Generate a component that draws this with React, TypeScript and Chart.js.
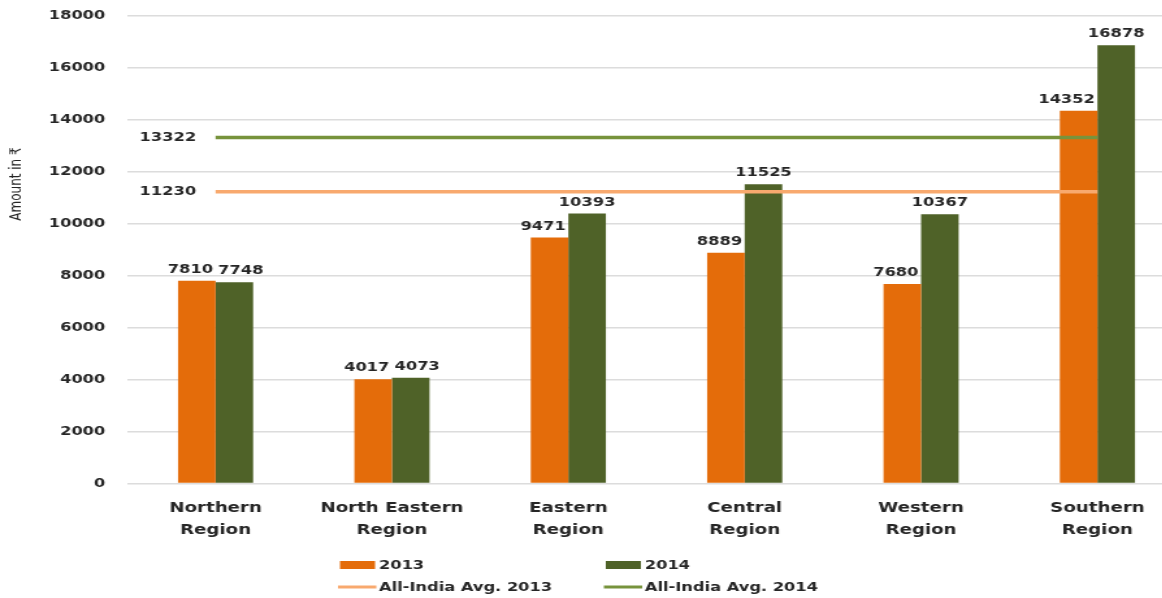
import React, { useEffect, useRef } from "react";
import { Chart, registerables } from "chart.js";

Chart.register(...registerables);

const categories = [
  "Northern Region",
  "North Eastern Region",
  "Eastern Region",
  "Central Region",
  "Western Region",
  "Southern Region",
];
const values2013 = [7810, 4017, 9471, 8889, 7680, 14352];
const values2014 = [7748, 4073, 10393, 11525, 10367, 16878];
const avg2013 = 11230;
const avg2014 = 13322;
const yTickMin = 0;
const yTickMax = 18000;
const yTickStep = 2000;
const seriesLabels = ["2013", "2014", "All-India Avg. 2013", "All-India Avg. 2014"];
const yTitle = "Amount in ₹";

const STRETCH = 1.3;
const W = 912;
const H = 598;
const FONT = "'DejaVu Sans', Verdana, sans-serif";
const TEXT = "#262626";
const C2013 = "#E46C0A";
const C2014 = "#4F6228";
const CAVG13 = "#F8A96E";
const CAVG14 = "#77933C";

const annotPlugin = {
  id: "annot",
  afterDatasetsDraw(chart: any) {
    const ctx = chart.ctx;
    ctx.save();
    ctx.fillStyle = TEXT;
    ctx.font = `bold 12.5px ${FONT}`;
    ctx.textAlign = "center";
    ctx.textBaseline = "alphabetic";
    const m0 = chart.getDatasetMeta(0);
    const m1 = chart.getDatasetMeta(1);
    const d0 = chart.data.datasets[0].data;
    const d1 = chart.data.datasets[1].data;
    const gap = 8;
    const textH = 10;
    for (let i = 0; i < m0.data.length; i++) {
      const a = m0.data[i];
      const b = m1.data[i];
      const ta = String(d0[i]);
      const tb = String(d1[i]);
      const wa = ctx.measureText(ta).width;
      const wb = ctx.measureText(tb).width;
      let xa = a.x;
      let xb = b.x;
      const ya = a.y - gap;
      const yb = b.y - gap;
      const bLeft = b.x - b.width / 2;
      if (ya > b.y) {
        const ov = xa + wa / 2 - bLeft;
        if (ov > 0) xa -= ov + 2;
      }
      if (Math.abs(ya - yb) < textH + 2) {
        const ov = xa + wa / 2 - (xb - wb / 2) + 4;
        if (ov > 0) {
          xa -= ov / 2;
          xb += ov / 2;
        }
      }
      ctx.fillText(ta, xa, ya);
      ctx.fillText(tb, xb, yb);
    }
    [2, 3].forEach((di) => {
      const meta = chart.getDatasetMeta(di);
      const ds = chart.data.datasets[di];
      const first = meta.data[0];
      ctx.textAlign = "right";
      ctx.textBaseline = "middle";
      ctx.fillText(String(ds.data[0]), first.x - 15, first.y);
    });
    ctx.restore();
  },
  afterDraw(chart: any) {
    const ctx = chart.ctx;
    ctx.save();
    ctx.translate(13, 184);
    ctx.rotate(-Math.PI / 2);
    ctx.fillStyle = TEXT;
    ctx.font = `12px ${FONT}`;
    ctx.textAlign = "center";
    ctx.textBaseline = "middle";
    ctx.fillText(yTitle, 0, 0);
    ctx.restore();

    ctx.save();
    const cols = [261.5, 466];
    const rows = [565, 587];
    const ds = chart.data.datasets;
    ctx.font = `bold 12.5px ${FONT}`;
    ctx.textBaseline = "middle";
    ctx.textAlign = "left";
    for (let i = 0; i < 4; i++) {
      const x = cols[i % 2];
      const y = rows[Math.floor(i / 2)];
      const d = ds[i];
      if (d.type === "line") {
        ctx.strokeStyle = d.borderColor;
        ctx.lineWidth = 3;
        ctx.beginPath();
        ctx.moveTo(x - 1.5, y);
        ctx.lineTo(x + 28, y);
        ctx.stroke();
      } else {
        ctx.fillStyle = d.backgroundColor;
        ctx.fillRect(x, y - 4, 27, 8);
      }
      ctx.fillStyle = TEXT;
      ctx.fillText(d.label, x + 30, y + 0.5);
    }
    ctx.restore();
  },
};

export default function App() {
  const ref = useRef<HTMLCanvasElement>(null);
  useEffect(() => {
    if (!ref.current) return;
    const chart = new Chart(ref.current, {
      type: "bar",
      data: {
        labels: categories,
        datasets: [
          {
            type: "bar",
            label: seriesLabels[0],
            data: values2013,
            backgroundColor: C2013,
            order: 1,
            barPercentage: 1,
            categoryPercentage: 0.426,
          },
          {
            type: "bar",
            label: seriesLabels[1],
            data: values2014,
            backgroundColor: C2014,
            order: 1,
            barPercentage: 1,
            categoryPercentage: 0.426,
          },
          {
            type: "line",
            label: seriesLabels[2],
            data: categories.map(() => avg2013),
            borderColor: CAVG13,
            backgroundColor: CAVG13,
            borderWidth: 3.5,
            pointRadius: 0,
            order: 0,
          },
          {
            type: "line",
            label: seriesLabels[3],
            data: categories.map(() => avg2014),
            borderColor: CAVG14,
            backgroundColor: CAVG14,
            borderWidth: 3.5,
            pointRadius: 0,
            order: 0,
          },
        ] as any,
      },
      options: {
        animation: false,
        responsive: false,
        devicePixelRatio: 1,
        layout: { padding: { top: 16, bottom: 43, left: 0, right: 0 } },
        plugins: {
          legend: { display: false },
          tooltip: { enabled: false },
          title: { display: false },
        },
        scales: {
          x: {
            grid: { display: false, drawTicks: false },
            border: { display: false },
            ticks: {
              color: TEXT,
              padding: 14,
              maxRotation: 0,
              autoSkip: false,
              font: { family: FONT, size: 14, weight: "bold", lineHeight: 1.55 },
              callback: function (this: any, v: any) {
                const l: string = this.getLabelForValue(v);
                const idx = l.lastIndexOf(" ");
                return [l.slice(0, idx), l.slice(idx + 1)];
              },
            },
          },
          y: {
            min: yTickMin,
            max: yTickMax,
            grid: { color: "#dcdcdc", lineWidth: 1.5, drawTicks: false },
            border: { display: false },
            ticks: {
              stepSize: yTickStep,
              color: TEXT,
              padding: 17,
              font: { family: FONT, size: 12.5, weight: "bold" },
              callback: (v: any) => String(v),
            },
            afterFit(scale: any) {
              scale.width = 98;
              scale.paddingTop = 8;
              scale.paddingBottom = 8;
            },
          },
        },
      } as any,
      plugins: [annotPlugin],
    });
    return () => chart.destroy();
  }, []);

  return (
    <div
      style={{
        position: "fixed",
        left: 0,
        top: 0,
        width: 1162,
        height: 598,
        overflow: "hidden",
        background: "#fff",
      }}
    >
      <div
        style={{
          width: W,
          height: H,
          transform: `scaleX(${STRETCH})`,
          transformOrigin: "0 0",
        }}
      >
        <canvas ref={ref} width={W} height={H} />
      </div>
    </div>
  );
}
